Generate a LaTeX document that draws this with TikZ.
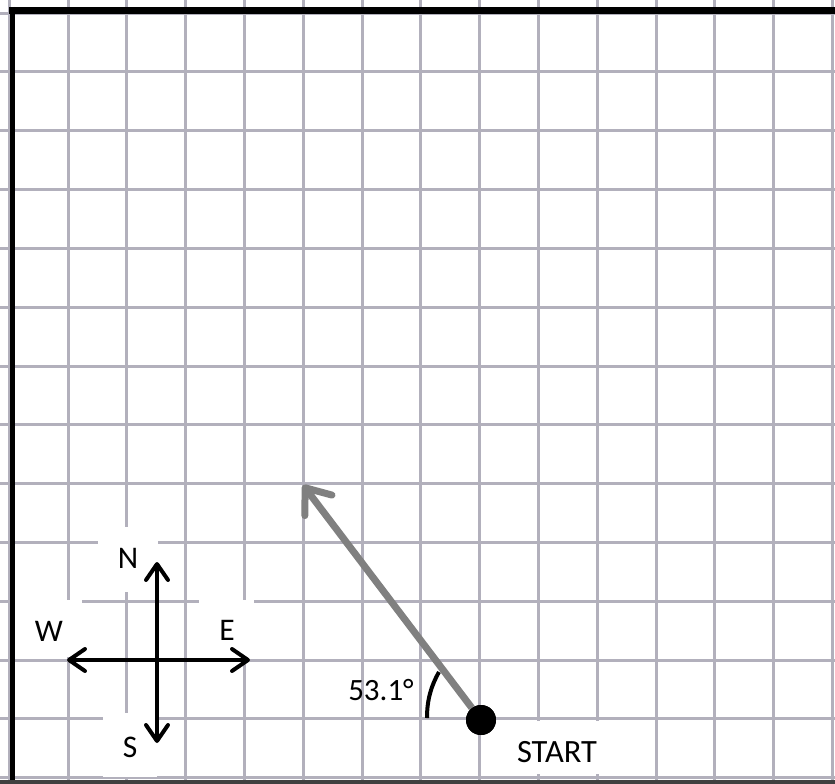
\documentclass[tikz,border=0pt]{standalone}
\usepackage{fontspec}
\setmainfont{Carlito}
\usetikzlibrary{arrows.meta}
\definecolor{gridc}{RGB}{178,176,188}
\definecolor{vecc}{RGB}{128,128,128}
\begin{document}
\begin{tikzpicture}[x=1pt,y=-1pt,
  gridline/.style={draw=gridc,line width=3pt},
  whitebox/.style={fill=white,draw=none,inner sep=0pt,rectangle},
  dirtxt/.style={inner sep=0pt,font=\fontsize{31.5}{31.5}\selectfont},
  bigtxt/.style={inner sep=0pt,font=\fontsize{31}{31}\selectfont},
  starttxt/.style={inner sep=0pt,font=\fontsize{32.5}{32.5}\selectfont},
  compass/.style={line width=4pt,-{Straight Barb[length=16pt,width=22pt,round]}},
  vector/.style={draw=vecc,line width=7pt,-{Straight Barb[length=22pt,width=34pt,round]}},
  border/.style={draw=black,line width=#1},
  angarc/.style={draw=black,line width=4pt}
]
\useasboundingbox (0,0) rectangle (835,784);
\fill[white] (0,0) rectangle (835,784);
% grid
\foreach \k in {-1,...,13} {\draw[gridline] ({68+58.8*\k},0) -- ({68+58.8*\k},784);}
\foreach \k in {-1,...,12} {\draw[gridline] (0,{72+58.8*\k}) -- (835,{72+58.8*\k});}
% white label boxes
\node[whitebox,minimum width=60pt,minimum height=65pt] (nbox) at (128,559.5) {};
\node[whitebox,minimum width=70pt,minimum height=57pt] (wbox) at (47,628.5) {};
\node[whitebox,minimum width=55pt,minimum height=58pt] (ebox) at (226.5,629) {};
\node[whitebox,minimum width=54pt,minimum height=64pt] (sbox) at (130,745) {};
\node[whitebox,minimum width=122pt,minimum height=53pt] (startbox) at (556,747.5) {};
% borders
\draw[border=7pt] (9,10.5) -- (835,10.5);
\draw[border=5pt] (12.5,7) -- (12.5,784);
\draw[draw=black!75,line width=4pt] (0,782) -- (835,782);
% compass
\coordinate (c) at (157,660);
\coordinate (ntip) at (157,562);
\coordinate (stip) at (157,743);
\coordinate (wtip) at (67,660);
\coordinate (etip) at (250,660);
\draw[compass] (c) -- (ntip);
\draw[compass] (c) -- (stip);
\draw[compass] (c) -- (wtip);
\draw[compass] (c) -- (etip);
\node[dirtxt] (ntxt) at (128,558) {N};
\node[dirtxt] (wtxt) at (49,631) {W};
\node[dirtxt] (etxt) at (227,630) {E};
\node[dirtxt] (stxt) at (130,747) {S};
% vector
\coordinate (vtip) at (303,485);
\node[circle,fill=black,inner sep=0pt,minimum size=30pt] (dot) at (481,720) {};
\draw[vector] (dot) -- (vtip);
\node[circle,fill=black,inner sep=0pt,minimum size=30pt] (dot2) at (481,720) {};
% angle
\draw[angarc] (427,718) .. controls (427,700) and (431,686) .. (439,672);
\node[bigtxt] (ang) at (381,690) {53.1°};
\node[starttxt] (start) at (557,752) {START};
\end{tikzpicture}
\end{document}
